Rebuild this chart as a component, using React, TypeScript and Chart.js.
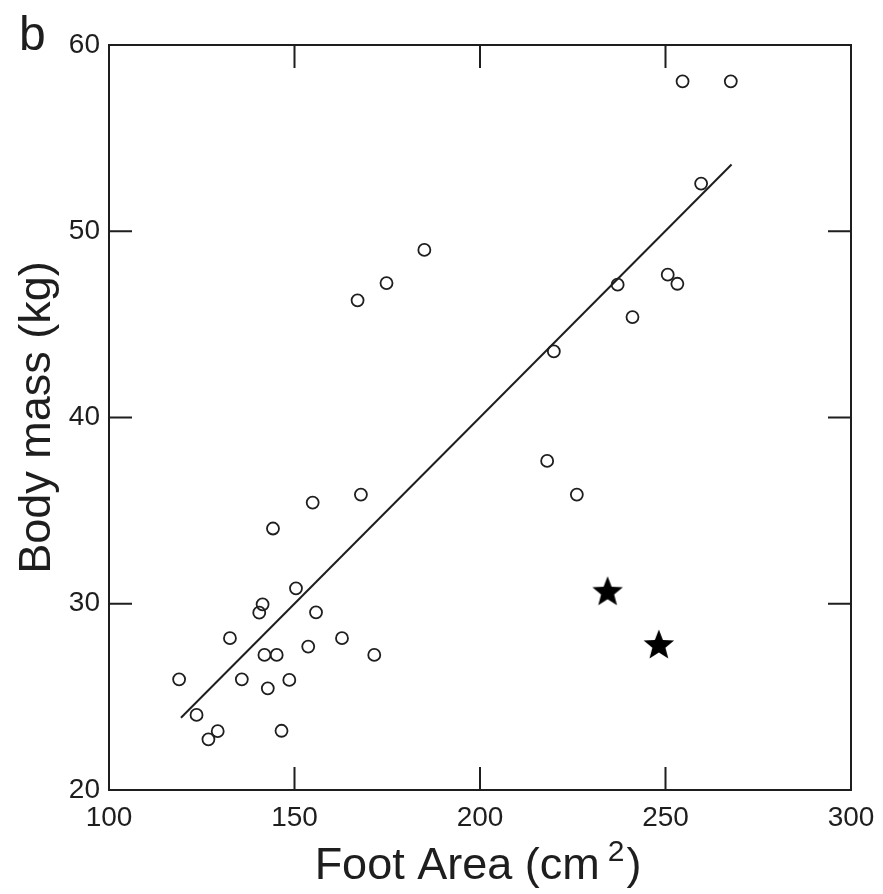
import React, { useEffect, useRef } from "react";
import { Chart, registerables } from "chart.js";

Chart.register(...registerables);

const xTicks = [100, 150, 200, 250, 300];
const yTicks = [20, 30, 40, 50, 60];

const circleX = [
  167.0, 174.8, 185.0, 254.6, 267.6, 259.6, 237.1, 250.6, 253.2, 241.1, 219.9,
  218.1, 226.1, 167.9, 154.9, 144.2, 150.4, 141.4, 140.5, 155.8, 132.6, 162.8,
  153.7, 141.9, 145.2, 171.5, 118.9, 135.8, 148.6, 142.8, 123.6, 129.3, 126.8,
  146.5,
];
const circleY = [
  46.29, 47.22, 49.0, 58.05, 58.05, 52.56, 47.13, 47.67, 47.18, 45.39, 43.55,
  37.67, 35.86, 35.86, 35.43, 34.04, 30.83, 29.97, 29.52, 29.54, 28.15, 28.15,
  27.7, 27.25, 27.25, 27.25, 25.94, 25.94, 25.91, 25.46, 24.03, 23.16, 22.72,
  23.18,
];
const starX = [234.4, 248.2];
const starY = [30.7, 27.84];
const fitX = [119.4, 267.8];
const fitY = [23.88, 53.58];

const xTitleMain = "Foot Area (cm";
const xTitleSup = "2";
const xTitleEnd = ")";
const yTitle = "Body mass (kg)";
const panelLabel = "b";

const FONT = '"Liberation Sans", Arial, Helvetica, sans-serif';
const INK = "#1e1e1e";
const TICK = 23;

function makeStar(): HTMLCanvasElement {
  const c = document.createElement("canvas");
  const size = 36;
  c.width = size;
  c.height = size;
  const ctx = c.getContext("2d")!;
  const R = 16;
  const r = R * 0.43;
  const cx = size / 2;
  const cy = size / 2 + R * 0.095;
  ctx.beginPath();
  for (let i = 0; i < 10; i++) {
    const rad = i % 2 === 0 ? R : r;
    const ang = -Math.PI / 2 + (i * Math.PI) / 5;
    const px = cx + rad * Math.cos(ang);
    const py = cy + rad * Math.sin(ang);
    if (i === 0) ctx.moveTo(px, py);
    else ctx.lineTo(px, py);
  }
  ctx.closePath();
  ctx.fillStyle = "#000";
  ctx.fill();
  return c;
}

const framePlugin = {
  id: "frame",
  afterDraw(chart: any) {
    const { ctx, chartArea: a, scales } = chart;
    const x = scales.x;
    const y = scales.y;
    ctx.save();
    ctx.strokeStyle = INK;
    ctx.lineWidth = 2;
    ctx.strokeRect(a.left, a.top, a.right - a.left, a.bottom - a.top);
    ctx.beginPath();
    for (const v of xTicks) {
      const px = x.getPixelForValue(v);
      ctx.moveTo(px, a.bottom);
      ctx.lineTo(px, a.bottom - TICK);
      ctx.moveTo(px, a.top);
      ctx.lineTo(px, a.top + TICK);
    }
    for (const v of yTicks) {
      const py = y.getPixelForValue(v);
      ctx.moveTo(a.left, py);
      ctx.lineTo(a.left + TICK, py);
      ctx.moveTo(a.right, py);
      ctx.lineTo(a.right - TICK, py);
    }
    ctx.stroke();

    ctx.fillStyle = INK;
    ctx.textAlign = "left";
    ctx.textBaseline = "alphabetic";
    ctx.font = `48px ${FONT}`;
    ctx.fillText(panelLabel, 19, 50);

    // x axis title with superscript
    const mainFont = `45px ${FONT}`;
    const supFont = `30px ${FONT}`;
    ctx.font = mainFont;
    const w1 = ctx.measureText(xTitleMain).width;
    const w3 = ctx.measureText(xTitleEnd).width;
    ctx.font = supFont;
    const gap = 8;
    const w2 = ctx.measureText(xTitleSup).width;
    const total = w1 + gap + w2 + 2 + w3;
    const cx = (a.left + a.right) / 2 - 2;
    let sx = cx - total / 2;
    const base = 879;
    ctx.font = mainFont;
    ctx.fillText(xTitleMain, sx, base);
    sx += w1 + gap;
    ctx.font = supFont;
    ctx.fillText(xTitleSup, sx, base - 18);
    sx += w2 + 2;
    ctx.font = mainFont;
    ctx.fillText(xTitleEnd, sx, base);
    ctx.restore();
  },
};

export default function App() {
  const ref = useRef<HTMLCanvasElement | null>(null);

  useEffect(() => {
    document.body.style.margin = "0";
    const canvas = ref.current;
    if (!canvas) return;
    const star = makeStar();
    const chart = new Chart(canvas, {
      type: "scatter",
      data: {
        datasets: [
          {
            label: "fit",
            type: "line",
            data: fitX.map((v, i) => ({ x: v, y: fitY[i] })),
            borderColor: INK,
            borderWidth: 2,
            pointRadius: 0,
            fill: false,
            order: 3,
          } as any,
          {
            label: "circles",
            data: circleX.map((v, i) => ({ x: v, y: circleY[i] })),
            pointStyle: "circle",
            pointRadius: 6,
            borderColor: INK,
            borderWidth: 1.8,
            backgroundColor: "rgba(0,0,0,0)",
            order: 2,
          },
          {
            label: "stars",
            data: starX.map((v, i) => ({ x: v, y: starY[i] })),
            pointStyle: star as any,
            pointRadius: 16,
            order: 1,
          },
        ],
      },
      options: {
        animation: false,
        responsive: false,
        maintainAspectRatio: false,
        layout: { padding: { top: 45, right: 32, left: 0, bottom: 0 } },
        plugins: {
          legend: { display: false },
          tooltip: { enabled: false },
        },
        scales: {
          x: {
            type: "linear",
            min: 100,
            max: 300,
            grid: { display: false, drawTicks: false },
            border: { display: false },
            afterBuildTicks: (s: any) => {
              s.ticks = xTicks.map((v) => ({ value: v }));
            },
            afterFit: (s: any) => {
              s.height = 104;
              s.paddingLeft = 0;
              s.paddingRight = 0;
            },
            ticks: {
              padding: 11,
              color: INK,
              font: { family: FONT, size: 28 },
              maxRotation: 0,
              callback: (v: any) => String(v),
            },
            title: { display: false },
          },
          y: {
            type: "linear",
            min: 20,
            max: 60,
            grid: { display: false, drawTicks: false },
            border: { display: false },
            afterBuildTicks: (s: any) => {
              s.ticks = yTicks.map((v) => ({ value: v }));
            },
            afterFit: (s: any) => {
              s.width = 109;
              s.paddingTop = 0;
              s.paddingBottom = 0;
            },
            ticks: {
              padding: 9,
              color: INK,
              font: { family: FONT, size: 28 },
              callback: (v: any) => String(v),
            },
            title: {
              display: true,
              text: yTitle,
              color: INK,
              font: { family: FONT, size: 45 },
              padding: { top: 11, bottom: 0 },
            },
          },
        },
      },
      plugins: [framePlugin],
    });
    return () => chart.destroy();
  }, []);

  return (
    <div style={{ width: 883, height: 894, background: "#fff" }}>
      <canvas ref={ref} width={883} height={894} style={{ display: "block" }} />
    </div>
  );
}
